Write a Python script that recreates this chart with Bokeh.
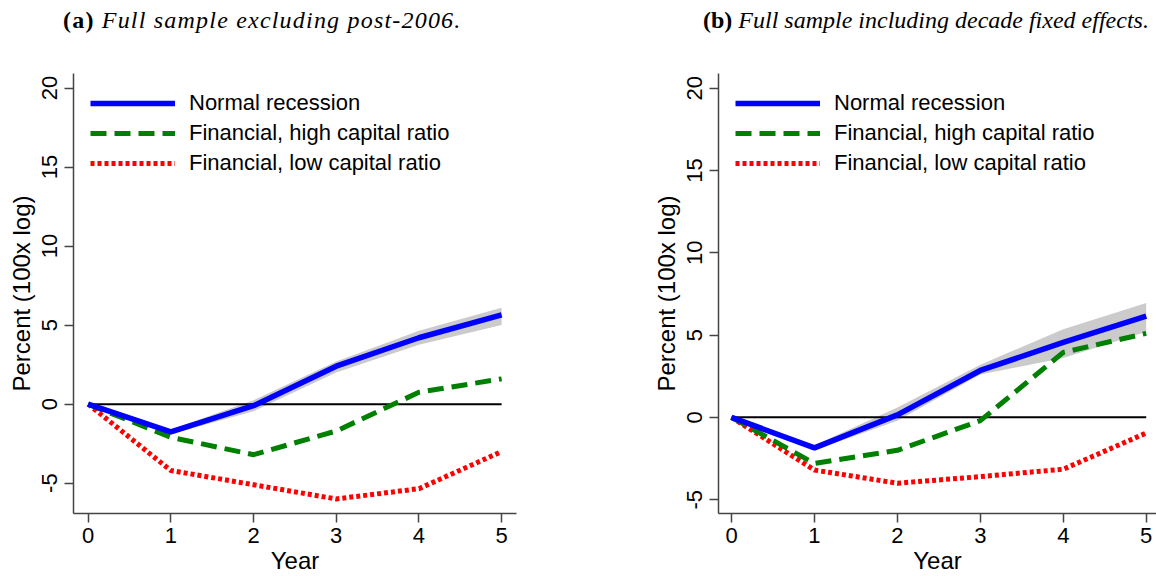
from bokeh.plotting import figure
from bokeh.layouts import row, column
from bokeh.models import Div, FixedTicker, Range1d, Legend, LegendItem
from bokeh.embed import file_html
from bokeh.resources import INLINE

# ---- data ----
years = [0, 1, 2, 3, 4, 5]
y_ticks = [-5, 0, 5, 10, 15, 20]
series_names = ["Normal recession", "Financial, high capital ratio", "Financial, low capital ratio"]

titles_bold = ["(a)", "(b)"]
titles_italic = ["Full sample excluding post-2006.", "Full sample including decade fixed effects."]

# panel (a)
a_normal = [0, -1.75, -0.1, 2.4, 4.2, 5.65]
a_normal_lo = [0, -1.9, -0.45, 2.0, 3.75, 5.0]
a_normal_hi = [0, -1.6, 0.25, 2.7, 4.65, 6.1]
a_high = [0, -2.1, -3.2, -1.7, 0.75, 1.6]
a_low = [0, -4.2, -5.1, -6.0, -5.35, -3.0]

# panel (b)
b_normal = [0, -1.85, 0.15, 2.85, 4.55, 6.15]
b_normal_lo = [0, -2.0, -0.2, 2.6, 3.6, 5.2]
b_normal_hi = [0, -1.7, 0.6, 3.2, 5.35, 6.95]
b_high = [0, -2.8, -2.0, -0.2, 3.95, 5.1]
b_low = [0, -3.2, -4.0, -3.6, -3.15, -0.95]


def make_panel(xr, yr, normal, lo, hi, high, low, left_border, right_border):
    p = figure(width=578, height=536, x_range=Range1d(*xr), y_range=Range1d(*yr),
               output_backend="svg", toolbar_location=None,
               min_border_left=left_border, min_border_right=right_border,
               min_border_top=33, min_border_bottom=60)
    p.grid.visible = False
    p.outline_line_color = None
    p.background_fill_color = "white"

    p.varea(x=years, y1=lo, y2=hi, fill_color="#cbcbcb")
    p.line([years[0], years[-1]], [0, 0], line_color="black", line_width=2)
    r3 = p.line(years, low, line_color="#ff0000", line_width=5, line_dash="4 3")
    r2 = p.line(years, high, line_color="#008000", line_width=5, line_dash="16 8")
    r1 = p.line(years, normal, line_color="#0000ff", line_width=5.5, line_join="round")

    legend = Legend(items=[LegendItem(label=series_names[0], renderers=[r1]),
                           LegendItem(label=series_names[1], renderers=[r2]),
                           LegendItem(label=series_names[2], renderers=[r3])],
                    location="top_left")
    legend.margin = 17
    legend.padding = 10
    legend.glyph_width = 85
    legend.glyph_height = 24
    legend.spacing = 4
    legend.label_standoff = 14
    legend.label_text_font = "Liberation Sans"
    legend.label_text_font_size = "22px"
    legend.label_text_color = "black"
    legend.border_line_color = None
    legend.background_fill_alpha = 0
    p.add_layout(legend)

    p.xaxis.ticker = FixedTicker(ticks=years)
    p.yaxis.ticker = FixedTicker(ticks=y_ticks)
    p.yaxis.major_label_overrides = {t: str(t) for t in y_ticks}
    p.yaxis.major_label_orientation = "vertical"
    p.xaxis.axis_label = "Year"
    p.yaxis.axis_label = "Percent (100x log)"
    for ax in (p.xaxis[0], p.yaxis[0]):
        ax.major_label_text_font = "Liberation Sans"
        ax.major_label_text_font_size = "22px"
        ax.major_label_text_color = "black"
        ax.axis_label_text_font = "Liberation Sans"
        ax.axis_label_text_font_size = "24px"
        ax.axis_label_text_font_style = "normal"
        ax.axis_label_text_color = "black"
        ax.axis_line_color = "#444444"
        ax.axis_line_width = 1.5
        ax.major_tick_line_color = "#444444"
        ax.major_tick_line_width = 1.5
        ax.major_tick_out = 9
        ax.major_tick_in = 0
        ax.minor_tick_out = 0
        ax.minor_tick_in = 0
    p.yaxis.major_label_standoff = 7
    p.yaxis.axis_label_standoff = 5
    p.xaxis.major_label_standoff = 5
    p.xaxis.axis_label_standoff = 1
    return p


def make_title(i, pad, spacing):
    html = ('<div style="font-family:\'Liberation Serif\',serif;font-size:24px;letter-spacing:%spx;'
            'line-height:24px;padding-top:8px;padding-left:%dpx;white-space:nowrap;color:black;">'
            '<b style="font-style:normal">%s</b> <i>%s</i></div>' % (spacing, pad, titles_bold[i], titles_italic[i]))
    return Div(text=html, width=578, height=40, margin=0)


pa = make_panel((-0.177, 5.18), (-6.92, 20.92), a_normal, a_normal_lo, a_normal_hi, a_high, a_low, 73, 62)
pb = make_panel((-0.157, 5.124), (-5.84, 20.89), b_normal, b_normal_lo, b_normal_hi, b_high, b_low, 140, 0)

layout = row(column(make_title(0, 63, 1.2), pa, spacing=0),
             column(make_title(1, 125, 0), pb, spacing=0), spacing=0)

open("out.html", "w").write(file_html(layout, INLINE))
